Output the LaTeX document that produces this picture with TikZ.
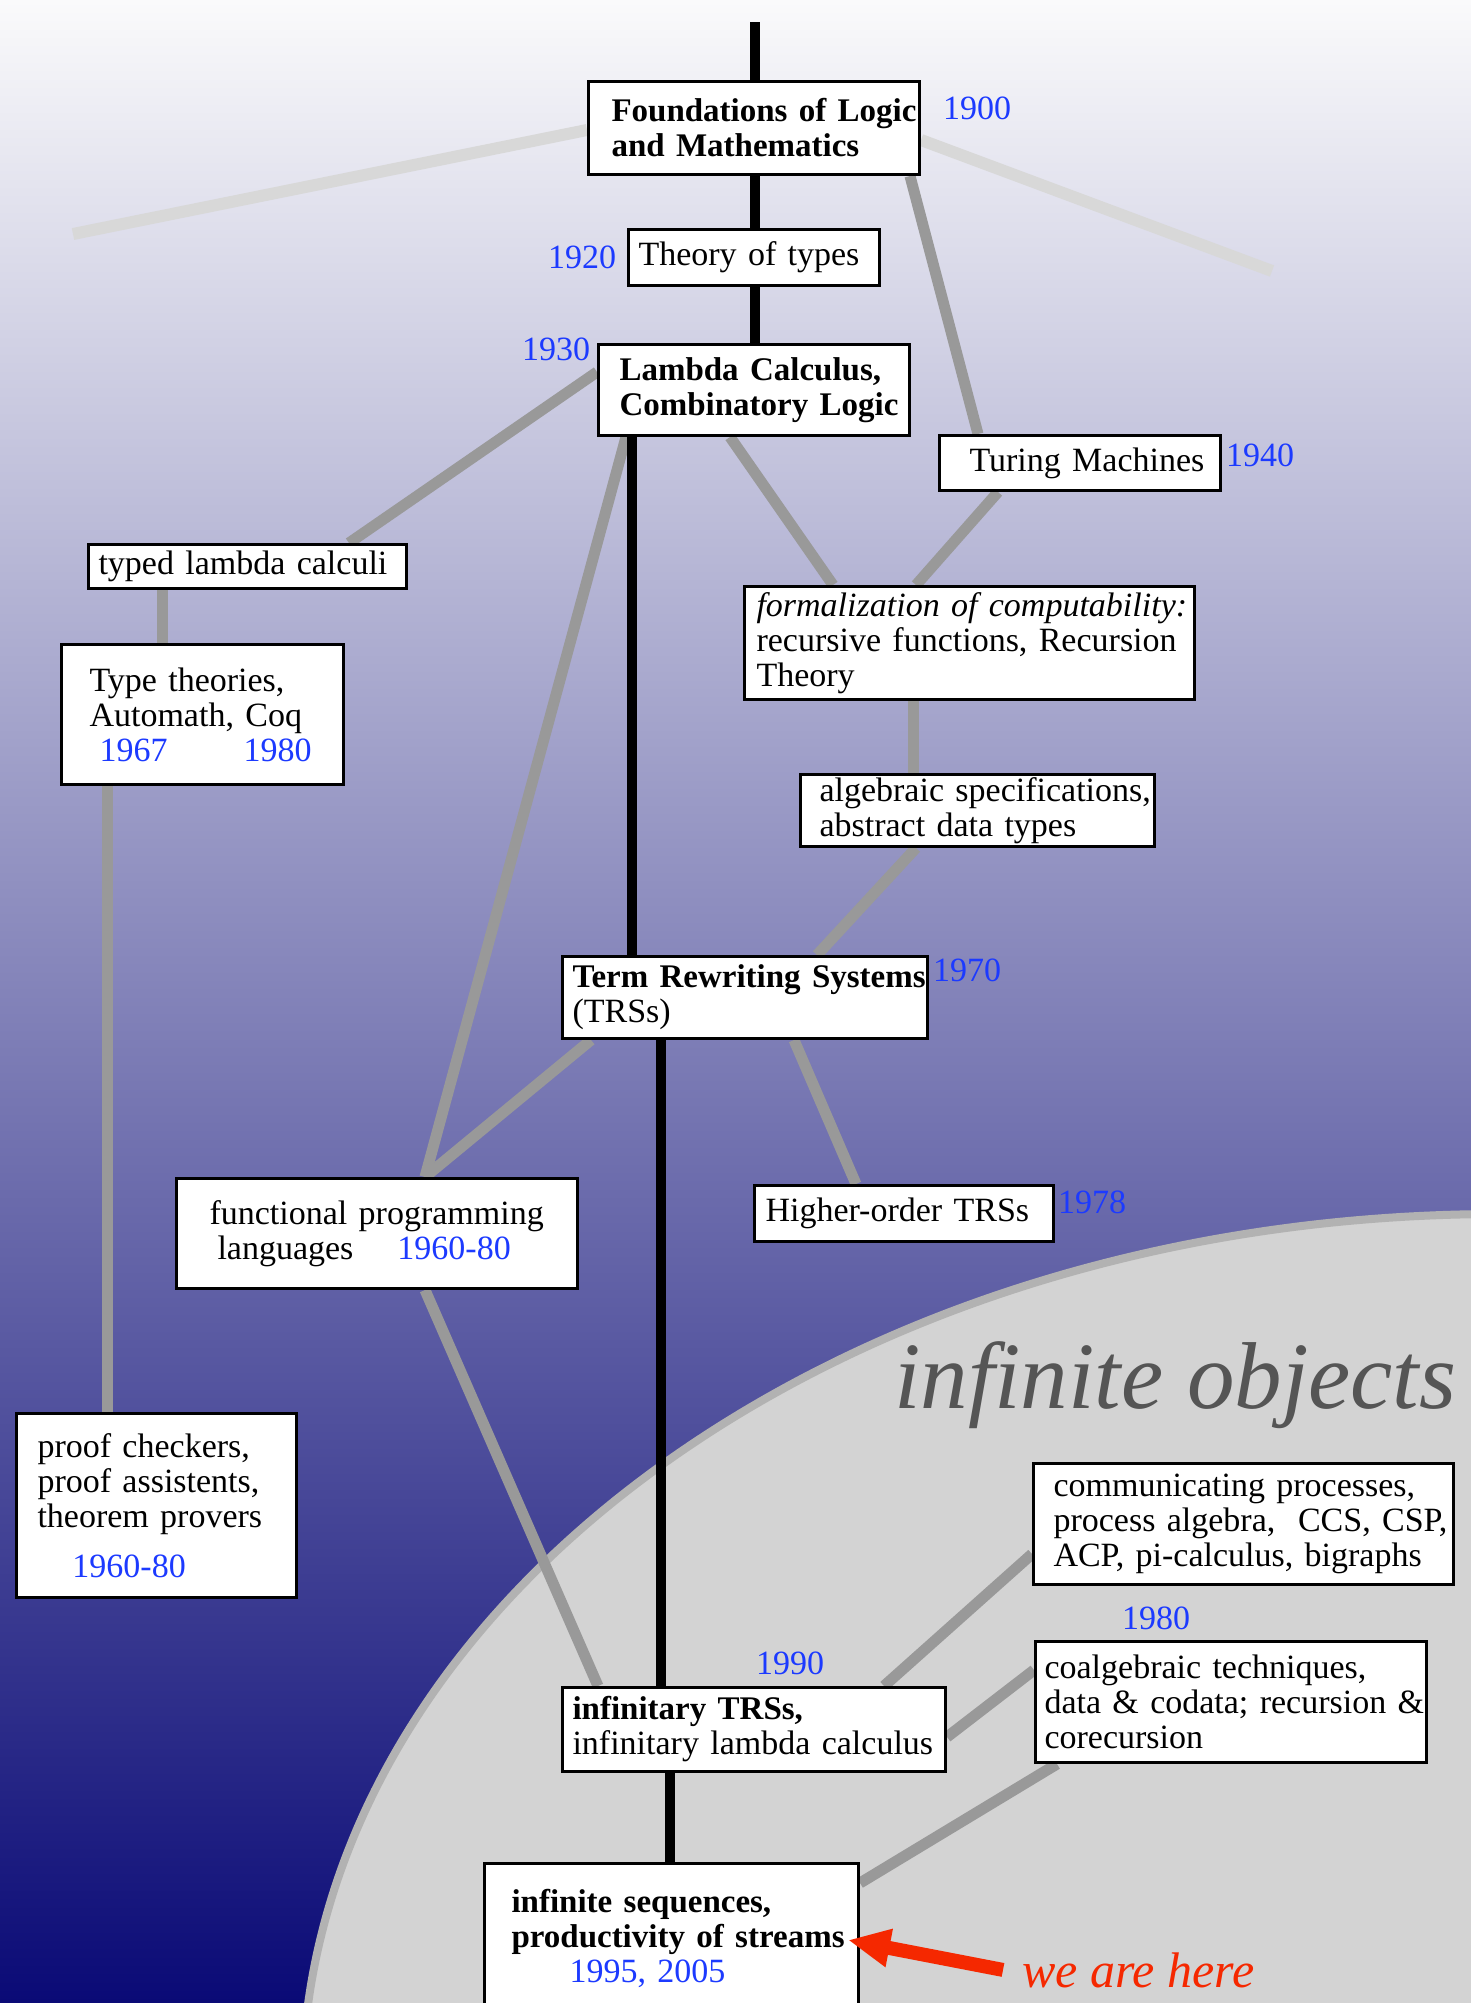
\documentclass[tikz,border=0pt]{standalone}
\usepackage{fontspec}
\setmainfont{Liberation Serif}
\usetikzlibrary{arrows.meta}
\definecolor{dateblue}{RGB}{28,58,255}
\definecolor{darkline}{RGB}{153,153,153}
\definecolor{lightline}{RGB}{216,216,216}
\definecolor{circfill}{RGB}{211,211,211}
\definecolor{circedge}{RGB}{178,178,178}
\definecolor{bgtop}{RGB}{250,250,251}
\definecolor{bgbot}{RGB}{10,10,118}
\definecolor{herered}{RGB}{245,40,0}
\definecolor{objgray}{RGB}{85,85,85}
\newcommand\boxfont{\fontsize{34}{35}\selectfont}
\newcommand\boldline[1]{\mbox{\fontsize{33}{35}\selectfont\bfseries #1}}
\pgfdeclarelayer{back}
\pgfdeclarelayer{lines}
\pgfsetlayers{back,lines,main}
\begin{document}
\begin{tikzpicture}[x=1pt,y=-1pt,
  box/.style={draw=black, line width=3pt, fill=white, anchor=north west, align=left, inner ysep=0pt, font=\boxfont},
  date/.style={anchor=base west, inner sep=0pt, text=dateblue, font=\boxfont},
  blackline/.style={line width=10.5pt, black},
  grayline/.style={line width=11pt, darkline},
  paleline/.style={line width=12pt, lightline},
]
\useasboundingbox (0,0) rectangle (1471,2003);

\begin{pgfonlayer}{back}
\shade[top color=bgtop, bottom color=bgbot] (0,0) rectangle (1471,2003);
\begin{scope}
\clip (0,0) rectangle (1471,2003);
\draw[fill=circfill, draw=circedge, line width=8pt] (1500,2093) ellipse [x radius=1198pt, y radius=879pt];
\end{scope}
\end{pgfonlayer}

% boxes
\node[box, minimum height=93pt, text width=285pt, inner xsep=23pt] (found) at (587,80)
  {\boldline{Foundations of Logic}\\\boldline{and Mathematics}};
\node[box, minimum height=56pt, text width=231pt, inner xsep=10pt] (theory) at (627,228)
  {\mbox{Theory of types}};
\node[box, minimum height=91pt, text width=269pt, inner xsep=21pt] (lambda) at (597,343)
  {\boldline{Lambda Calculus,}\\\boldline{Combinatory Logic}};
\node[box, minimum height=55pt, text width=221pt, inner xsep=30pt] (turing) at (938,434)
  {\mbox{Turing Machines}};
\node[box, minimum height=44pt, text width=298pt, inner xsep=10pt] (typed) at (87,543)
  {\mbox{typed lambda calculi}};
\node[box, minimum height=113pt, text width=426pt, inner xsep=12pt] (formal) at (743,585)
  {\mbox{\itshape formalization of computability:}\\\mbox{recursive functions, Recursion}\\\mbox{Theory}};
\node[box, minimum height=140pt, text width=226pt, inner xsep=28pt] (types) at (60,643)
  {\mbox{Type theories,}\\\mbox{Automath, Coq}\\\mbox{\hspace*{10pt}\textcolor{dateblue}{1967}\hspace*{76pt}\textcolor{dateblue}{1980}}};
\node[box, minimum height=72pt, text width=316pt, inner xsep=19pt] (alg) at (799,773)
  {\mbox{algebraic specifications,}\\\mbox{abstract data types}};
\node[box, minimum height=82pt, text width=345pt, inner xsep=10pt] (trs) at (561,955)
  {\boldline{Term Rewriting Systems}\\\mbox{(TRSs)}};
\node[box, minimum height=110pt, text width=335pt, inner xsep=33pt] (func) at (175,1177)
  {\mbox{functional programming}\\\mbox{\hspace*{8pt}languages\hspace*{44pt}\textcolor{dateblue}{1960-80}}};
\node[box, minimum height=56pt, text width=277pt, inner xsep=11pt] (ho) at (753,1184)
  {\mbox{Higher-order TRSs}};
\node[box, minimum height=184pt, text width=238pt, inner xsep=21pt] (proof) at (15,1412)
  {\mbox{proof checkers,}\\\mbox{proof assistents,}\\\mbox{theorem provers}\\[15pt]\mbox{\hspace*{35pt}\textcolor{dateblue}{1960-80}}};
\node[box, minimum height=121pt, text width=380pt, inner xsep=20pt] (comm) at (1032,1462)
  {\mbox{communicating processes,}\\\mbox{process algebra,\ \ CCS, CSP,}\\\mbox{ACP, pi-calculus, bigraphs}};
\node[box, minimum height=121pt, text width=373pt, inner xsep=9pt] (coalg) at (1034,1640)
  {\mbox{coalgebraic techniques,}\\\mbox{data \& codata; recursion \&}\\\mbox{corecursion}};
\node[box, minimum height=84pt, text width=363pt, inner xsep=10pt] (inf) at (561,1686)
  {\boldline{infinitary TRSs,}\\\mbox{infinitary lambda calculus}};
\node[box, minimum height=150pt, text width=320pt, inner xsep=27pt] (seq) at (483,1862)
  {\boldline{infinite sequences,}\\\boldline{productivity of streams}\\\mbox{\hspace*{58pt}\textcolor{dateblue}{1995, 2005}}};

% dates
\node[date] (d1900) at (943,119) {1900};
\node[date] (d1920) at (548,268) {1920};
\node[date] (d1930) at (522,360) {1930};
\node[date] (d1940) at (1226,466) {1940};
\node[date] (d1970) at (933,981) {1970};
\node[date] (d1978) at (1058,1213) {1978};
\node[date] (d1980) at (1122,1629) {1980};
\node[date] (d1990) at (756,1674) {1990};

% free ends
\coordinate (topend) at (755,22);
\coordinate (lfree) at (73,234);
\coordinate (rfree) at (1272,271);
\coordinate (tip) at (848,1940);
\coordinate (bl1) at ([xshift=35pt]lambda.south west);
\coordinate (bl2) at ([xshift=100pt]trs.south west);
\coordinate (bl3) at ([xshift=109pt]inf.south west);

\begin{pgfonlayer}{lines}
\draw[paleline] ([yshift=-50pt]found.north west) -- (lfree);
\draw[paleline] ([yshift=-60pt]found.north east) -- (rfree);

\draw[grayline] ([xshift=-11pt]found.south east) -- ([xshift=40pt]turing.north west);
\draw[grayline] ([yshift=-29pt]lambda.north west) -- ([xshift=262pt]typed.north west);
\draw[grayline] ([xshift=29pt]lambda.south west) -- ([xshift=250pt]func.north west);
\draw[grayline] ([xshift=133pt]lambda.south west) -- ([xshift=90pt]formal.north west);
\draw[grayline] ([xshift=60pt]turing.south west) -- ([xshift=173pt]formal.north west);
\draw[grayline] ([xshift=75pt]typed.south west) -- ([xshift=102pt]types.north west);
\draw[grayline] ([xshift=47pt]types.south west) -- ([xshift=92pt]proof.north west);
\draw[grayline] ([xshift=170pt]formal.south west) -- ([xshift=114pt]alg.north west);
\draw[grayline] ([xshift=117pt]alg.south west) -- ([xshift=256pt]trs.north west);
\draw[grayline] ([xshift=30pt]trs.south west) -- ([xshift=250pt]func.north west);
\draw[grayline] ([xshift=233pt]trs.south west) -- ([xshift=103pt]ho.north west);
\draw[grayline] ([xshift=250pt]func.south west) -- ([xshift=37pt]inf.north west);
\draw[grayline] ([xshift=323pt]inf.north west) -- ([yshift=32pt]comm.south west);
\draw[grayline] ([yshift=-51pt]inf.north east) -- ([yshift=-30pt]coalg.north west);
\draw[grayline] ([yshift=-21pt]seq.north east) -- ([xshift=23pt]coalg.south west);

\draw[blackline] (topend) -- (topend |- found.north);
\draw[blackline] (topend |- found.south) -- (topend |- theory.north);
\draw[blackline] (topend |- theory.south) -- (topend |- lambda.north);
\draw[blackline] (bl1) -- (bl1 |- trs.north);
\draw[blackline] (bl2) -- (bl2 |- inf.north);
\draw[blackline] (bl3) -- (bl3 |- seq.north);
\end{pgfonlayer}

\node[anchor=base west, inner sep=0pt, text=objgray, font=\fontsize{95}{95}\selectfont\itshape] (objects) at (894,1408) {infinite objects};
\node[anchor=base west, inner sep=0pt, text=herered, font=\fontsize{50}{50}\selectfont\itshape] (here) at (1022,1987) {we are here};
\draw[herered, line width=14pt, -{Triangle[length=42pt,width=36pt]}] ([xshift=-19pt]here.west) -- (tip);
\end{tikzpicture}
\end{document}
